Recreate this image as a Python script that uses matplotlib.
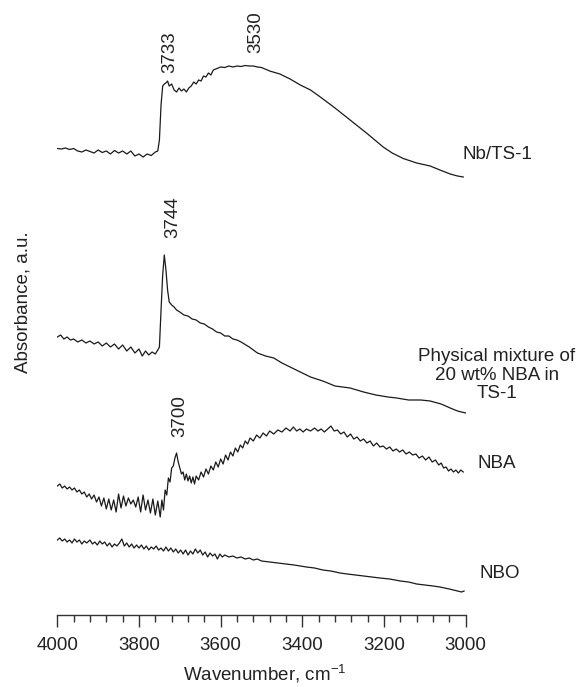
import numpy as np
import matplotlib
matplotlib.use('Agg')
import matplotlib.pyplot as plt
from matplotlib.ticker import MultipleLocator

plt.rcParams['font.family'] = ['Liberation Sans', 'DejaVu Sans']
plt.rcParams['mathtext.fontset'] = 'custom'
plt.rcParams['mathtext.rm'] = 'Liberation Sans'
plt.rcParams['mathtext.it'] = 'Liberation Sans'

# (wavenumber cm-1, absorbance a.u., spectra offset for display)
nb_ts1 = [
    (4000, 4.665), (3990, 4.66), (3980, 4.67), (3970, 4.655), (3960, 4.665), (3950, 4.64),
    (3940, 4.63), (3930, 4.65), (3920, 4.635), (3910, 4.62), (3900, 4.65), (3890, 4.625),
    (3880, 4.64), (3870, 4.61), (3860, 4.645), (3850, 4.62), (3840, 4.64), (3830, 4.61),
    (3820, 4.64), (3810, 4.59), (3800, 4.61), (3790, 4.58), (3780, 4.61), (3770, 4.595),
    (3760, 4.63), (3754, 4.64), (3750, 4.75), (3746, 5.10), (3742, 5.29), (3738, 5.31),
    (3734, 5.32), (3730, 5.34), (3726, 5.29), (3720, 5.31), (3714, 5.25), (3708, 5.23),
    (3702, 5.27), (3696, 5.24), (3690, 5.26), (3684, 5.23), (3678, 5.27), (3672, 5.29),
    (3666, 5.33), (3660, 5.31), (3654, 5.35), (3648, 5.34), (3642, 5.39), (3636, 5.38),
    (3630, 5.42), (3624, 5.40), (3618, 5.45), (3612, 5.46), (3600, 5.48), (3590, 5.475),
    (3580, 5.49), (3570, 5.48), (3560, 5.49), (3550, 5.485), (3540, 5.495), (3530, 5.49),
    (3520, 5.49), (3510, 5.48), (3500, 5.475), (3480, 5.44), (3455, 5.41), (3430, 5.36),
    (3405, 5.30), (3380, 5.25), (3356, 5.18), (3320, 5.07), (3283, 4.95), (3240, 4.81),
    (3202, 4.68), (3180, 4.62), (3153, 4.565), (3120, 4.52), (3087, 4.49), (3060, 4.445),
    (3038, 4.41), (3020, 4.39), (3006, 4.38),
]

mixture = [
    (4000, 2.78), (3992, 2.80), (3984, 2.76), (3976, 2.78), (3968, 2.75), (3960, 2.76),
    (3950, 2.73), (3940, 2.75), (3930, 2.72), (3920, 2.74), (3910, 2.71), (3900, 2.73),
    (3890, 2.69), (3880, 2.72), (3870, 2.68), (3860, 2.71), (3850, 2.66), (3840, 2.70),
    (3830, 2.64), (3820, 2.68), (3810, 2.62), (3800, 2.66), (3792, 2.59), (3784, 2.64),
    (3776, 2.60), (3768, 2.63), (3760, 2.61), (3754, 2.65), (3750, 2.68), (3746, 3.05),
    (3742, 3.40), (3738, 3.60), (3734, 3.45), (3730, 3.25), (3726, 3.13), (3720, 3.10),
    (3714, 3.08), (3708, 3.05), (3700, 3.03), (3690, 3.00), (3680, 2.99), (3670, 2.96),
    (3660, 2.95), (3650, 2.92), (3640, 2.91), (3630, 2.88), (3620, 2.86), (3610, 2.83),
    (3600, 2.82), (3590, 2.79), (3580, 2.79), (3570, 2.76), (3560, 2.75), (3550, 2.73),
    (3530, 2.68), (3510, 2.62), (3490, 2.59), (3470, 2.57), (3450, 2.52), (3430, 2.48),
    (3405, 2.43), (3380, 2.38), (3350, 2.34), (3320, 2.29), (3283, 2.27), (3250, 2.23),
    (3220, 2.20), (3190, 2.18), (3169, 2.17), (3140, 2.15), (3110, 2.15), (3087, 2.14),
    (3060, 2.11), (3038, 2.07), (3020, 2.04), (3000, 2.02),
]

nba = [
    (4000, 1.29), (3994, 1.31), (3988, 1.27), (3982, 1.29), (3976, 1.26), (3970, 1.28),
    (3964, 1.25), (3958, 1.27), (3952, 1.23), (3946, 1.25), (3940, 1.21), (3934, 1.23),
    (3928, 1.18), (3922, 1.21), (3916, 1.16), (3910, 1.20), (3904, 1.13), (3898, 1.18),
    (3892, 1.09), (3886, 1.17), (3880, 1.06), (3874, 1.16), (3868, 1.05), (3862, 1.15),
    (3856, 1.03), (3850, 1.21), (3844, 1.07), (3838, 1.19), (3832, 1.09), (3826, 1.17),
    (3820, 1.11), (3814, 1.15), (3808, 1.08), (3802, 1.18), (3796, 1.03), (3790, 1.20),
    (3784, 1.05), (3778, 1.15), (3772, 1.02), (3766, 1.16), (3760, 1.00), (3754, 1.14),
    (3748, 0.98), (3744, 1.15), (3740, 1.05), (3736, 1.25), (3732, 1.20), (3728, 1.37),
    (3724, 1.33), (3720, 1.47), (3716, 1.49), (3712, 1.57), (3708, 1.62), (3704, 1.53),
    (3700, 1.47), (3696, 1.41), (3692, 1.43), (3688, 1.35), (3684, 1.41), (3680, 1.34),
    (3676, 1.39), (3672, 1.32), (3668, 1.38), (3664, 1.31), (3660, 1.39), (3654, 1.35),
    (3648, 1.43), (3642, 1.38), (3636, 1.46), (3630, 1.41), (3624, 1.49), (3618, 1.45),
    (3612, 1.53), (3606, 1.48), (3600, 1.56), (3594, 1.51), (3588, 1.60), (3582, 1.55),
    (3576, 1.63), (3570, 1.59), (3564, 1.67), (3558, 1.63), (3552, 1.70), (3546, 1.67),
    (3540, 1.74), (3534, 1.71), (3528, 1.77), (3520, 1.74), (3512, 1.80), (3504, 1.77),
    (3496, 1.82), (3488, 1.79), (3480, 1.84), (3470, 1.81), (3460, 1.85), (3450, 1.83),
    (3440, 1.87), (3430, 1.84), (3422, 1.88), (3414, 1.84), (3406, 1.86), (3398, 1.83),
    (3390, 1.86), (3380, 1.84), (3370, 1.87), (3362, 1.84), (3354, 1.86), (3346, 1.83),
    (3338, 1.86), (3330, 1.89), (3322, 1.84), (3314, 1.85), (3306, 1.81), (3298, 1.83),
    (3290, 1.78), (3282, 1.81), (3274, 1.76), (3266, 1.78), (3258, 1.74), (3250, 1.76),
    (3242, 1.72), (3234, 1.74), (3226, 1.69), (3218, 1.72), (3210, 1.68), (3202, 1.69),
    (3194, 1.66), (3186, 1.68), (3178, 1.64), (3170, 1.66), (3162, 1.63), (3154, 1.65),
    (3146, 1.61), (3138, 1.63), (3130, 1.60), (3122, 1.61), (3114, 1.57), (3106, 1.59),
    (3098, 1.55), (3090, 1.58), (3082, 1.53), (3074, 1.55), (3066, 1.50), (3060, 1.52),
    (3054, 1.47), (3048, 1.48), (3042, 1.44), (3036, 1.46), (3030, 1.43), (3024, 1.45),
    (3018, 1.42), (3012, 1.45), (3006, 1.43),
]

nbo = [
    (4000, 0.75), (3994, 0.77), (3988, 0.74), (3982, 0.76), (3976, 0.73), (3970, 0.75),
    (3964, 0.72), (3958, 0.76), (3952, 0.73), (3946, 0.75), (3940, 0.71), (3934, 0.74),
    (3928, 0.72), (3920, 0.75), (3914, 0.71), (3908, 0.73), (3902, 0.70), (3896, 0.74),
    (3890, 0.71), (3884, 0.73), (3878, 0.69), (3872, 0.72), (3866, 0.68), (3860, 0.71),
    (3854, 0.69), (3848, 0.72), (3842, 0.76), (3836, 0.69), (3830, 0.72), (3824, 0.68),
    (3818, 0.71), (3812, 0.67), (3806, 0.70), (3800, 0.67), (3794, 0.70), (3788, 0.66),
    (3782, 0.69), (3776, 0.65), (3770, 0.68), (3764, 0.66), (3758, 0.69), (3752, 0.65),
    (3746, 0.67), (3740, 0.64), (3734, 0.68), (3728, 0.64), (3722, 0.67), (3716, 0.63),
    (3710, 0.66), (3704, 0.62), (3698, 0.65), (3692, 0.61), (3686, 0.65), (3680, 0.60),
    (3674, 0.64), (3668, 0.61), (3662, 0.66), (3656, 0.62), (3650, 0.65), (3644, 0.60),
    (3638, 0.63), (3632, 0.58), (3626, 0.62), (3620, 0.59), (3614, 0.61), (3608, 0.56),
    (3602, 0.61), (3596, 0.58), (3590, 0.60), (3580, 0.58), (3570, 0.59), (3560, 0.57),
    (3550, 0.58), (3540, 0.56), (3530, 0.57), (3520, 0.55), (3510, 0.56), (3500, 0.54),
    (3480, 0.53), (3460, 0.52), (3440, 0.51), (3420, 0.50), (3405, 0.49), (3390, 0.48),
    (3370, 0.47), (3350, 0.45), (3330, 0.44), (3308, 0.42), (3290, 0.41), (3270, 0.40),
    (3250, 0.39), (3230, 0.38), (3210, 0.37), (3186, 0.36), (3160, 0.34), (3140, 0.33),
    (3120, 0.31), (3100, 0.30), (3080, 0.29), (3063, 0.28), (3040, 0.26), (3020, 0.24),
    (3010, 0.23), (3004, 0.24),
]

# peak labels: (text, wavenumber, absorbance of label foot)
peak_labels = [('3733', 3725, 5.42), ('3530', 3515, 5.62), ('3744', 3717, 3.77), ('3700', 3700, 1.78)]
# sample names: (text, wavenumber, absorbance, alignment)
sample_labels = [
    ('Nb/TS-1', 3009, 4.61, 'left'),
    ('Physical mixture of\n20 wt% NBA in\nTS-1', 2924, 2.40, 'center'),
    ('NBA', 2970, 1.52, 'left'),
    ('NBO', 2965, 0.42, 'left'),
]

fs = 13.5

fig = plt.figure(figsize=(5.79, 6.87), dpi=100)
ax = fig.add_axes([0.099, 0.1048, 0.7053, 0.8952])

for spec in [nb_ts1, mixture, nba, nbo]:
    d = np.array(spec)
    ax.plot(d[:, 0], d[:, 1], color='#1a1a1a', lw=0.9)

for txt, x, y in peak_labels:
    ax.text(x, y, txt, rotation=90, ha='center', va='bottom', fontsize=fs, color='#222222')
for txt, x, y, ha in sample_labels:
    ax.text(x, y, txt, ha=ha, va='center', fontsize=fs, color='#222222',
            multialignment='center', linespacing=1.15, clip_on=False)

ax.set_xlim(4000, 3000)
ax.set_ylim(0, 6.15)
for s in ['top', 'right', 'left']:
    ax.spines[s].set_visible(False)
ax.spines['bottom'].set_linewidth(1.0)
ax.spines['bottom'].set_color('#333333')
ax.set_yticks([])
ax.xaxis.set_major_locator(MultipleLocator(200))
ax.xaxis.set_minor_locator(MultipleLocator(40))
ax.tick_params(axis='x', which='major', length=8.6, width=1.0, pad=7, labelsize=fs,
               color='#333333', labelcolor='#222222')
ax.tick_params(axis='x', which='minor', length=5, width=1.0, color='#333333')

fig.text(23 / 579, 1 - 302 / 687, 'Absorbance, a.u.', rotation=90, ha='center', va='center',
         fontsize=fs, color='#222222')
fig.text(265 / 579, 1 - 674 / 687, r'Wavenumber, cm$^{-1}$', ha='center', va='center',
         fontsize=fs, color='#222222')

fig.savefig('out.png', dpi=100)
